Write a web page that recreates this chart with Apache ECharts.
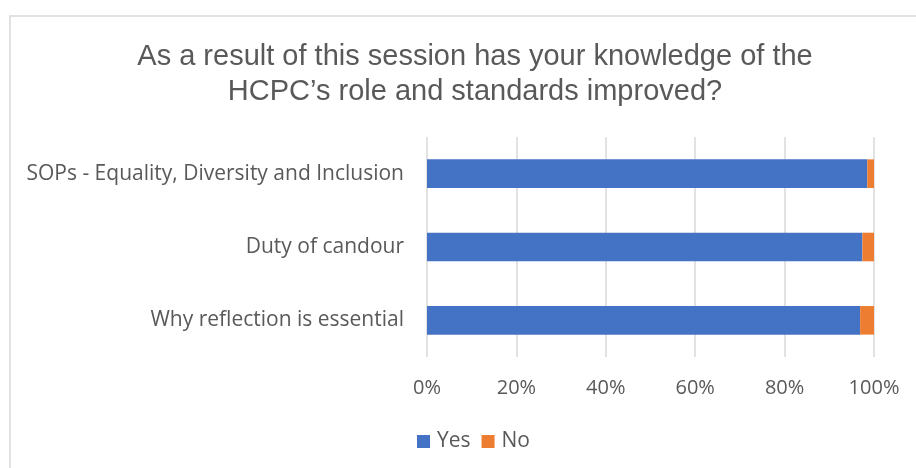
<!DOCTYPE html>
<html><head><meta charset="utf-8">
<script src="https://cdn.jsdelivr.net/npm/echarts@6/dist/echarts.min.js"></script>
<style>html,body{margin:0;padding:0;background:#fff}#c{width:916px;height:468px}</style>
</head><body><div id="c"></div>
<script>
const categories = ['Why reflection is essential', 'Duty of candour', 'SOPs - Equality, Diversity and Inclusion'];
const yesValues = [96.9, 97.4, 98.5];
const noValues = [3.1, 2.6, 1.5];
const xTicks = ['0%', '20%', '40%', '60%', '80%', '100%'];
const titleText = 'As a result of this session has your knowledge of the\nHCPC\u2019s role and standards improved?';

const chart = echarts.init(document.getElementById('c'));
const lab = {fontFamily: 'Open Sans', fontSize: 21, color: '#595959'};
chart.setOption({
  animation: false,
  graphic: [{type: 'rect', shape: {x: 10, y: 16, width: 1000, height: 1000}, style: {fill: 'none', stroke: '#d9d9d9', lineWidth: 1.5}, silent: true}],
  title: {text: titleText, left: 470, textAlign: 'center', top: 34,
    textStyle: {fontFamily: 'Liberation Sans', fontSize: 29, fontWeight: 'normal', color: '#595959', lineHeight: 35}},
  legend: {data: ['Yes', 'No'], bottom: 11, left: 412, itemWidth: 13, itemHeight: 13, itemGap: 11,
    icon: 'rect', textStyle: Object.assign({}, lab, {padding: [0, 0, 0, 2]})},
  grid: {left: 427, right: 42, top: 137, bottom: 111},
  xAxis: {type: 'value', min: 0, max: 100, interval: 20,
    axisLabel: Object.assign({}, lab, {fontSize: 20, margin: 21, formatter: v => xTicks[Math.round(v / 20)]}),
    splitLine: {lineStyle: {color: '#d9d9d9', width: 1.5}},
    axisLine: {show: false}, axisTick: {show: false}},
  yAxis: {type: 'category', data: categories,
    axisLabel: Object.assign({}, lab, {margin: 23}),
    axisLine: {show: false}, axisTick: {show: false}},
  series: [
    {name: 'Yes', type: 'bar', stack: 't', data: yesValues, barCategoryGap: '61%', itemStyle: {color: '#4472c4'}},
    {name: 'No', type: 'bar', stack: 't', data: noValues, itemStyle: {color: '#ed7d31'}}
  ]
});
</script></body></html>
